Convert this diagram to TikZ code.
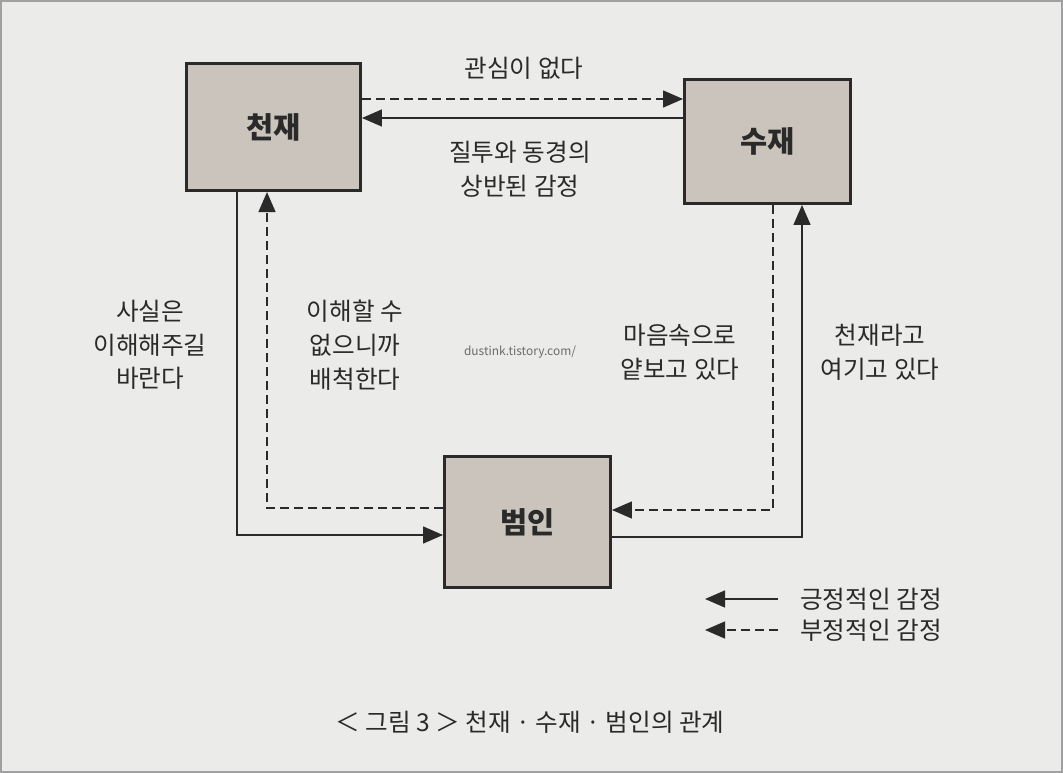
\documentclass[tikz,border=0pt]{standalone}
\usepackage{fontspec}
\setmainfont{Noto Sans CJK KR}
\usepackage{tikz}
\usetikzlibrary{positioning, arrows.meta, calc}
\definecolor{paper}{HTML}{EBEBE9}
\definecolor{frame}{HTML}{A0A0A0}
\definecolor{boxfill}{HTML}{CBC4BC}
\definecolor{ink}{HTML}{2A2A2A}
\definecolor{mark}{HTML}{6A6A6A}

\begin{document}
\begin{tikzpicture}[x=0.025cm, y=-0.025cm,
  box/.style={draw=ink, line width=2pt, fill=boxfill, text=ink,
    font=\fontsize{21}{24}\selectfont\bfseries},
  lbl/.style={align=center, text=ink, font=\fontsize{17.5}{24}\selectfont},
  posarr/.style={draw=ink, line width=1.4pt, -{Triangle[length=5mm, width=4.2mm]}},
  negarr/.style={posarr, dash pattern=on 2.2mm off 1.3mm},
  every node/.style={inner sep=0pt}
]
  % Paper
  \useasboundingbox (0,0) rectangle (1063,773);
  \fill[paper] (0,0) rectangle (1063,773);
  \draw[frame, line width=1.5pt] (1,1) rectangle (1062,772);

  % Nodes
  \node[box, minimum width=4.35cm, minimum height=3.18cm] (genius) at (273.5,127) {천재};
  \node[box, minimum width=4.15cm, minimum height=3.1cm] (talent) at (767.5,141.5) {수재};
  \node[box, minimum width=4.15cm, minimum height=3.28cm] (ordinary) at (527.5,522) {범인};

  % Labels
  \node[lbl] (nocare) at (524,68) {관심이 없다};
  \node[lbl] (mixed) at (520,169) {질투와 동경의\\상반된 감정};
  \node[lbl] (hope) at (150,345) {사실은\\이해해주길\\바란다};
  \node[lbl] (reject) at (355,345) {이해할 수\\없으니까\\배척한다};
  \node[lbl] (despise) at (680,352) {마음속으로\\얕보고 있다};
  \node[lbl] (regard) at (880,352) {천재라고\\여기고 있다};
  \node[text=mark, font=\fontsize{8.5}{10}\selectfont] (site) at (520,352) {dustink.tistory.com/};

  % Arrows
  \draw[negarr] (genius.east |- 0,99) -- (talent.west |- 0,99);
  \draw[posarr] (talent.west |- 0,118) -- (genius.east |- 0,118);
  \draw[posarr] (237,0 |- genius.south) |- (ordinary.west |- 0,535);
  \draw[negarr] (ordinary.west |- 0,508) -| (267,0 |- genius.south);
  \draw[negarr] (773,0 |- talent.south) |- (ordinary.east |- 0,510);
  \draw[posarr] (ordinary.east |- 0,537) -| (802,0 |- talent.south);

  % Legend
  \node[lbl, anchor=west] (legpos) at (800,599) {긍정적인 감정};
  \node[lbl, anchor=west] (legneg) at (800,630) {부정적인 감정};
  \coordinate (tippos) at (705,599);
  \coordinate (tipneg) at (705,630);
  \draw[posarr] ([xshift=-0.55cm]legpos.west) -- (tippos);
  \draw[negarr] ([xshift=-0.55cm]legneg.west) -- (tipneg);

  % Caption
  \node[lbl] (caption) at (530,722) {＜ 그림 3 ＞ 천재 · 수재 · 범인의 관계};
\end{tikzpicture}
\end{document}
